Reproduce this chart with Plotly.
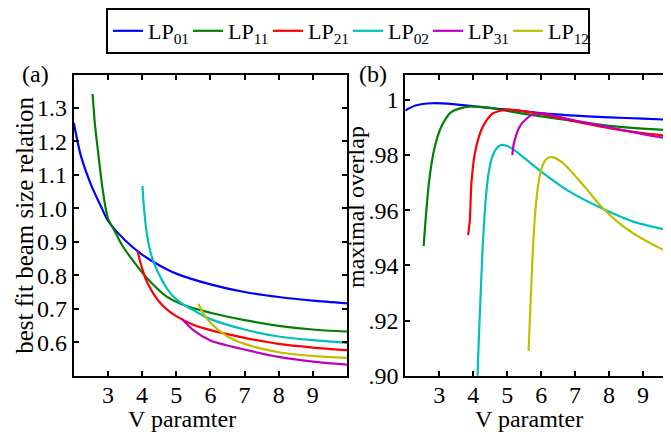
import plotly.graph_objects as go

# ---------------- data: (a) best fit beam size relation ----------------
v_a_lp01 = [2.0, 2.2, 2.5, 2.8, 3.0, 3.5, 4.0, 4.5, 5.0, 6.0, 7.0, 8.0, 9.0, 10.0]
w_lp01 = [1.256, 1.16, 1.072, 1.005, 0.963, 0.905, 0.862, 0.83, 0.805, 0.773, 0.75, 0.735, 0.724, 0.716]

v_a_lp11 = [2.55, 2.62, 2.7, 2.85, 3.0, 3.2, 3.4, 3.8, 4.2, 4.7, 5.3, 6.0, 7.0, 8.0, 9.0, 10.0]
w_lp11 = [1.342, 1.25, 1.178, 1.053, 0.97, 0.932, 0.892, 0.835, 0.785, 0.738, 0.708, 0.688, 0.666, 0.649, 0.638, 0.632]

v_a_lp21 = [3.87, 3.95, 4.0, 4.1, 4.2, 4.35, 4.5, 4.75, 5.0, 5.5, 6.0, 7.0, 8.0, 9.0, 10.0]
w_lp21 = [0.871, 0.838, 0.821, 0.79, 0.769, 0.742, 0.721, 0.696, 0.678, 0.652, 0.636, 0.613, 0.595, 0.584, 0.576]

v_a_lp02 = [4.01, 4.04, 4.08, 4.13, 4.2, 4.27, 4.35, 4.45, 4.55, 4.7, 4.9, 5.2, 5.5, 6.0, 7.0, 8.0, 9.0, 10.0]
w_lp02 = [1.067, 1.02, 0.975, 0.93, 0.89, 0.86, 0.837, 0.812, 0.792, 0.765, 0.738, 0.713, 0.696, 0.669, 0.638, 0.617, 0.606, 0.598]

v_a_lp31 = [5.16, 5.5, 6.0, 7.0, 8.0, 9.0, 10.0]
w_lp31 = [0.67, 0.636, 0.605, 0.578, 0.556, 0.542, 0.533]

v_a_lp12 = [5.65, 5.8, 6.0, 6.5, 7.0, 8.0, 9.0, 10.0]
w_lp12 = [0.715, 0.685, 0.658, 0.617, 0.595, 0.57, 0.559, 0.553]

# ---------------- data: (b) maximal overlap ----------------
v_b_lp01 = [2.0, 2.3, 2.8, 3.4, 4.3, 5.0, 6.0, 7.0, 8.0, 9.0, 10.0]
o_lp01 = [0.9962, 0.998, 0.9988, 0.9985, 0.9973, 0.9965, 0.9952, 0.9943, 0.9937, 0.9932, 0.9927]

v_b_lp11 = [2.54, 2.6, 2.7, 2.85, 3.05, 3.35, 3.8, 4.4, 5.0, 5.8, 7.0, 8.0, 9.0, 10.0]
o_lp11 = [0.947, 0.957, 0.9705, 0.982, 0.990, 0.9956, 0.9975, 0.9973, 0.996, 0.9944, 0.9923, 0.9906, 0.9896, 0.9889]

v_b_lp21 = [3.85, 3.9, 3.95, 4.07, 4.27, 4.56, 5.0, 5.8, 7.0, 8.0, 9.0, 10.0]
o_lp21 = [0.951, 0.9565, 0.9705, 0.982, 0.990, 0.995, 0.9965, 0.9953, 0.9922, 0.9898, 0.988, 0.9866]

v_b_lp02 = [4.115, 4.14, 4.17, 4.2, 4.24, 4.28, 4.33, 4.39, 4.46, 4.55, 4.65, 4.75, 4.85, 4.95, 5.1, 5.3,
            5.5, 6.0, 6.8, 7.8, 8.75, 9.4, 10.0]
o_lp02 = [0.895, 0.905, 0.915, 0.924, 0.936, 0.947, 0.9575, 0.967, 0.974, 0.979, 0.9818, 0.9832, 0.9837,
          0.9835, 0.9827, 0.981, 0.979, 0.974, 0.967, 0.9606, 0.9557, 0.9537, 0.952]

v_b_lp31 = [5.15, 5.2, 5.4, 5.7, 6.0, 7.0, 8.0, 9.0, 10.0]
o_lp31 = [0.980, 0.9845, 0.991, 0.9944, 0.9951, 0.9925, 0.9901, 0.9876, 0.9854]

v_b_lp12 = [5.63, 5.66, 5.7, 5.75, 5.8, 5.87, 5.95, 6.05, 6.15, 6.25, 6.4, 6.6, 6.8, 7.3, 7.78, 8.25,
            8.75, 9.3, 9.9]
o_lp12 = [0.909, 0.918, 0.93, 0.944, 0.955, 0.965, 0.972, 0.9765, 0.9785, 0.9792, 0.979, 0.9775, 0.9752,
          0.9682, 0.9612, 0.9558, 0.9513, 0.9475, 0.9438]

mode_names = ["LP<sub>01</sub>", "LP<sub>11</sub>", "LP<sub>21</sub>",
              "LP<sub>02</sub>", "LP<sub>31</sub>", "LP<sub>12</sub>"]
colors = ["#0000ff", "#008000", "#ff0000", "#00bfbf", "#bf00bf", "#bfbf00"]

x_ticks = [3, 4, 5, 6, 7, 8, 9]
a_ticks = [0.6, 0.7, 0.8, 0.9, 1.0, 1.1, 1.2, 1.3]
a_ticktext = ["0.6", "0.7", "0.8", "0.9", "1.0", "1.1", "1.2", "1.3"]
b_ticks = [0.90, 0.92, 0.94, 0.96, 0.98, 1.0]
b_ticktext = [".90", ".92", ".94", ".96", ".98", "1"]

panel_a = [(v_a_lp01, w_lp01), (v_a_lp11, w_lp11), (v_a_lp21, w_lp21),
           (v_a_lp02, w_lp02), (v_a_lp31, w_lp31), (v_a_lp12, w_lp12)]
panel_b = [(v_b_lp01, o_lp01), (v_b_lp11, o_lp11), (v_b_lp21, o_lp21),
           (v_b_lp02, o_lp02), (v_b_lp31, o_lp31), (v_b_lp12, o_lp12)]

FONT = "Liberation Serif, Times New Roman, serif"
W, H = 671, 437

fig = go.Figure()
for i, (vx, vy) in enumerate(panel_a):
    fig.add_trace(go.Scatter(x=vx, y=vy, mode="lines", name=mode_names[i],
                             line=dict(color=colors[i], width=2.2, shape="spline", smoothing=0.8),
                             xaxis="x", yaxis="y", showlegend=True))
for i, (vx, vy) in enumerate(panel_b):
    fig.add_trace(go.Scatter(x=vx, y=vy, mode="lines", name=mode_names[i],
                             line=dict(color=colors[i], width=2.2, shape="spline", smoothing=0.7),
                             xaxis="x2", yaxis="y2", showlegend=False))

axis_common = dict(showgrid=False, zeroline=False, showline=True, linecolor="black",
                   linewidth=2, mirror="ticks", ticks="inside", ticklen=5, tickwidth=1.5,
                   tickcolor="black", tickfont=dict(family=FONT, size=24, color="black"))

ydom = [(H - 378.5) / H, (H - 66) / H]

fig.update_layout(
    width=W, height=H,
    margin=dict(l=0, r=0, t=0, b=0),
    paper_bgcolor="white", plot_bgcolor="white",
    font=dict(family=FONT, size=24, color="black"),
    xaxis=dict(domain=[66 / W, 340 / W], range=[2, 10], tickvals=x_ticks, anchor="y",
               ticklabelstandoff=-3, **axis_common),
    yaxis=dict(domain=ydom, range=[0.5, 1.4], tickvals=a_ticks, ticktext=a_ticktext, anchor="x", **axis_common),
    xaxis2=dict(domain=[398.5 / W, 1.0], range=[2, 10], tickvals=x_ticks, anchor="y2",
                ticklabelstandoff=-3, **axis_common),
    yaxis2=dict(domain=ydom, range=[0.9, 1.0092], tickvals=b_ticks, ticktext=b_ticktext, anchor="x2", **axis_common),
    legend=dict(orientation="h", x=341 / W, xanchor="center", y=1.008, yanchor="top",
                bordercolor="black", borderwidth=2, bgcolor="white",
                font=dict(family=FONT, size=22, color="black"), itemwidth=30,
                entrywidth=35, entrywidthmode="pixels", tracegroupgap=0),
    showlegend=True,
)

def ann(text, px, py, angle=0, size=24):
    fig.add_annotation(text=text, x=px / W, y=(H - py) / H, xref="paper", yref="paper",
                       xanchor="center", yanchor="middle", showarrow=False, textangle=angle,
                       font=dict(family=FONT, size=size, color="black"))

ann("(a)", 28, 65)
ann("(b)", 366, 65)
ann("V paramter", 175, 424)
ann("V paramter", 523, 424)
ann("best fit beam size relation", 17, 222, -90, 25)
ann("maximal overlap", 348.5, 203, -90)

fig.write_html("out.html")
